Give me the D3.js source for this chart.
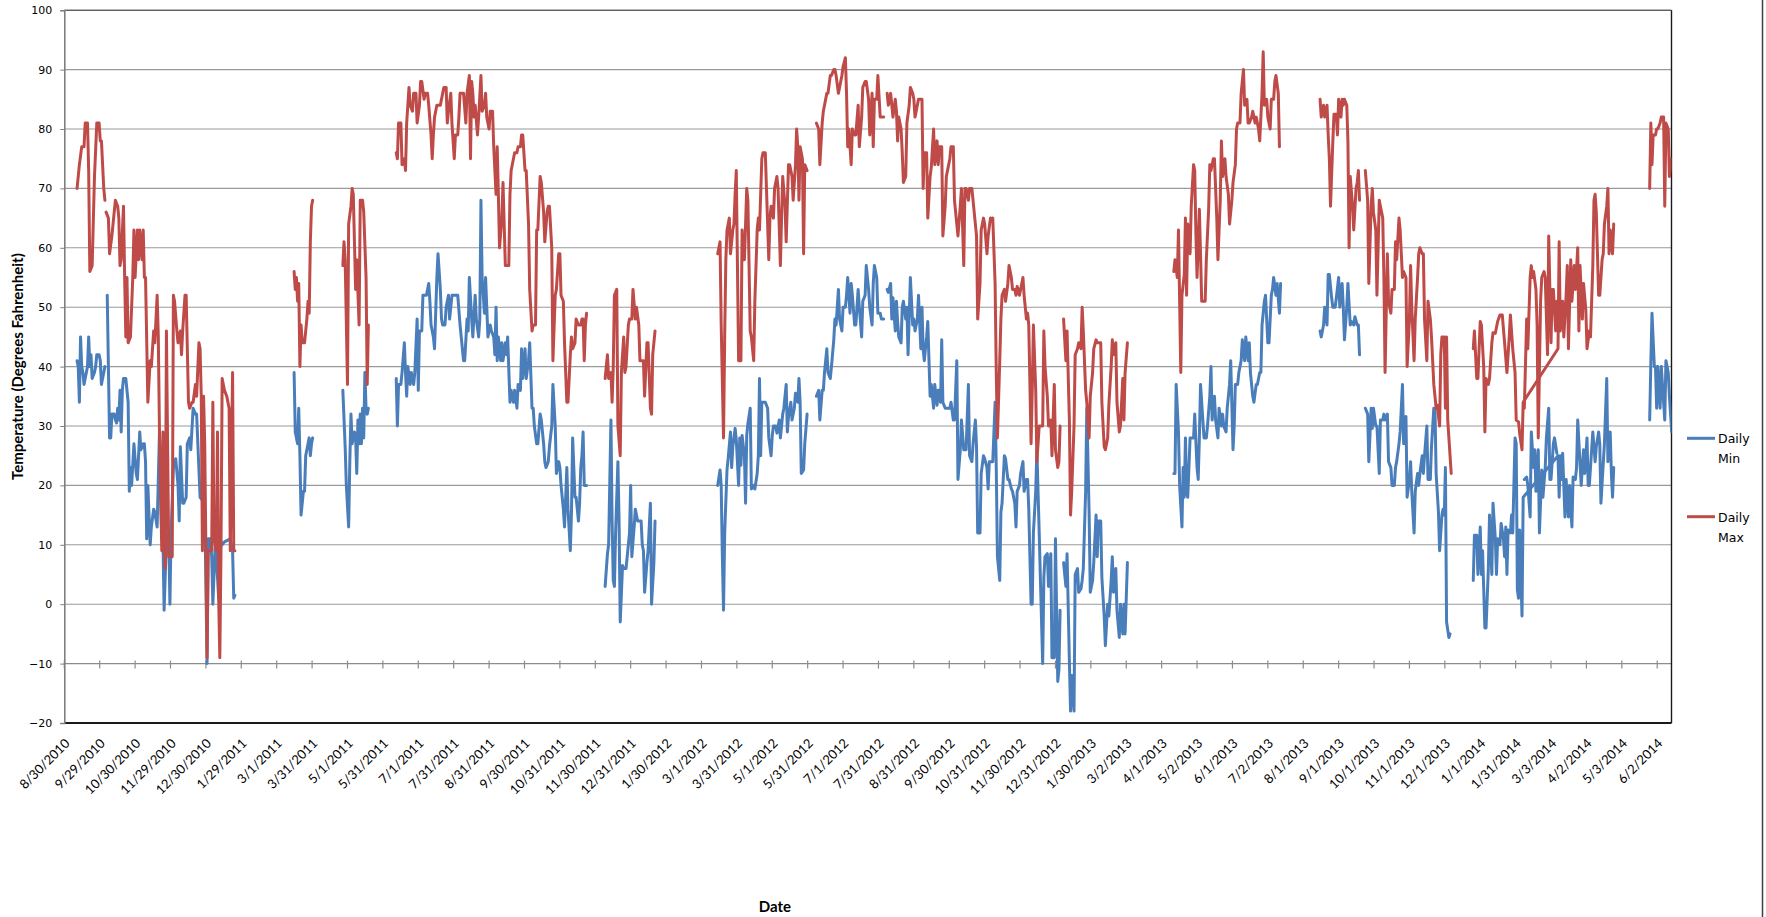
<!DOCTYPE html>
<html><head><meta charset="utf-8">
<script src="https://cdn.jsdelivr.net/npm/d3@7"></script>
<style>
html,body{margin:0;padding:0;background:#fff;}
svg{display:block;}
</style></head><body>
<svg id="chart" width="1766" height="917"></svg>
<script>
// ---------- data (day offsets from startDate, degrees F) ----------
const startDate = "8/30/2010";
const xMaxDay = 1384.8;
const tickStepDays = 30.5;
const tickLabels = ["8/30/2010","9/29/2010","10/30/2010","11/29/2010","12/30/2010","1/29/2011","3/1/2011","3/31/2011","5/1/2011","5/31/2011","7/1/2011","7/31/2011","8/31/2011","9/30/2011","10/31/2011","11/30/2011","12/31/2011","1/30/2012","3/1/2012","3/31/2012","5/1/2012","5/31/2012","7/1/2012","7/31/2012","8/31/2012","9/30/2012","10/31/2012","11/30/2012","12/31/2012","1/30/2013","3/2/2013","4/1/2013","5/2/2013","6/1/2013","7/2/2013","8/1/2013","9/1/2013","10/1/2013","11/1/2013","12/1/2013","1/1/2014","1/31/2014","3/3/2014","4/2/2014","5/3/2014","6/2/2014"];
const yTicks = [-20,-10,0,10,20,30,40,50,60,70,80,90,100];
const seriesNames = ["Daily Min","Daily Max"];
const yTitle = "Temperature (Degrees Fahrenheit)";
const xTitle = "Date";

const minSegments = [
[[11,41],[12,40],[13,34],[14,45],[15,40],[16,39],[17,37],[18,38],[20,40],[21,45],[22,40],[23,42],[24,38],[26,39],[27,40],[28,42],[30,42],[31,41],[32,37],[34,39],[35,40]],
[[37,52],[39,28],[40,28],[41,32],[43,32],[44,31],[45,30.5],[46,33],[47,31],[48,36],[49,29],[50,36],[51,38],[53,38],[55,34],[56,19],[57,23],[58,20],[60,27],[62,22],[63,21],[65,29],[66,26],[68,27],[69,27],[70,24],[71,11],[72,20],[74,10],[75,13],[77,16],[78,15.5],[80,13],[82,29],[84,11],[85,11],[86,-1],[88,11],[90,12],[91,0],[92,12],[94,23],[96,24.5],[98,20],[99,14],[100,26.5],[102,17],[103,17],[105,18],[106,27],[108,28],[109,26],[111,33],[113,32],[114,32],[117,18],[121,17],[123,-10],[124,11],[126,11],[127,8],[128,0],[130,10],[131,8],[133,1],[134,11],[136,10],[138,10.5],[143,11],[145,9],[146,1],[147,1.5]],
[[198,39],[199,29],[201,27],[202,33],[203,25],[204,15],[206,19],[207,19],[208,25],[209,26],[211,28],[212,25],[213,27],[214,28]],
[[240,36],[242,26.5],[243,20],[245,13],[246,24],[247,32],[248,27],[250,29],[251,28],[252,22],[253,31],[254,27],[255,32],[256,27],[257,33],[258,28],[259,39],[260,33],[261,32],[262,33]],
[[286,38],[287,30],[288,37],[290,37],[291,39],[293,44],[294,39],[295,35],[296,40],[298,37],[299,39],[301,37],[302,39],[304,48],[305,36],[306,46],[308,46],[309,52],[311,52],[312,52],[314,54],[315,51],[316,47],[318,45],[319,43],[321,55],[322,59],[324,53],[325,48],[326,47],[328,47],[329,50],[331,52],[332,48],[334,52],[335,52],[337,52],[338,52],[339,52],[341,47],[342,45],[344,41],[345,41],[347,48],[348,46],[349,55],[351,48],[352,45],[354,52],[355,48],[357,45],[358,48],[359,68],[360,55],[362,49],[363,55],[364,50],[365,45],[367,47],[368,46],[370,45],[371,42],[372,50],[373,41],[374,45],[375,43],[376,41],[377,44],[378,41],[380,44],[381,42],[382,45],[384,34],[385,36],[387,34],[388,36],[390,33],[391,37],[393,36],[394,43],[395,38],[397,43],[398,38],[400,41],[401,44],[403,33],[404,33],[405,30],[407,27],[408,27],[410,32],[411,31],[413,27],[414,24],[415,23],[417,24],[418,26.5],[420,30],[421,37],[423,30],[424,22],[426,24],[427,23],[428,20],[430,16],[431,13],[433,23],[434,16],[436,9],[437,15.5],[438,28],[440,18],[441,18],[443,14],[444,17],[445,23],[446,25],[447,29],[448,20],[450,20]],
[[466,3],[468,8.5],[469,10],[471,31],[472,14],[473,4],[474,3],[475,12],[477,24],[478,14],[479,-3],[481,6.5],[482,6],[484,6],[485,8],[487,12],[488,20],[489,8],[491,13],[492,16],[494,14],[495,14],[497,14],[498,10],[499,9],[500,2],[502,7],[503,9],[505,17],[506,0],[508,7],[509,14]],
[[563,20],[565,22.6],[566,20],[567,8],[568,-1],[569,12],[571,22.6],[572,24.5],[574,29],[575,23],[576,26.5],[578,29.6],[579,27.7],[581,20],[582,28],[583,23.4],[584,28.4],[586,25],[587,17],[588,28.4],[589,30.4],[591,33],[592,19.4],[594,20],[595,19.4],[597,22],[598,25],[599,38],[600,25],[601,34],[603,34],[604,34],[606,33],[607,28],[609,25],[610,28.4],[611,30],[613,30],[614,28.8],[616,31],[617,28],[619,32],[620,33],[622,37],[623,29],[624,31.6],[626,34],[627,31],[629,33],[630,35.5],[632,34],[633,38],[634,34],[635,22],[637,22.6],[638,27],[640,32]],
[[648,35],[650,36],[651,31],[653,36],[654,36],[655,39],[657,43],[658,39],[660,38],[661,40],[663,44.5],[664,48],[665,47],[667,53],[668,48],[670,46],[671,50],[673,50],[674,52],[675,55],[677,49],[678,54],[679,52],[681,47],[682,47],[684,53],[685,50],[687,45],[688,51],[690,52],[691,57],[693,53],[694,50],[696,47],[697,54],[698,57],[700,55],[701,49],[703,49],[704,48],[706,48]],
[[709,53],[710,52.5],[712,54],[713,48],[714,51.6],[716,46],[717,51],[718,47.6],[719,45],[721,44],[722,50],[723,51],[725,48],[726,50],[727,42],[729,55],[731,47],[732,48],[733,46],[735,48],[736,52],[738,43],[739,50],[740,43],[741,41],[743,45],[744,47.6],[746,35],[747,37],[749,33],[750,37],[752,33.5],[753,36],[755,34],[756,44.5],[757,34],[759,33],[760,33],[762,33],[763,33],[764,34],[766,31],[767,31],[769,41],[770,21],[772,26],[773,31],[775,26],[776,26],[777,26],[779,37],[780,25],[782,24],[783,27],[785,31],[786,26.5],[787,12],[789,12],[790,22],[792,25],[793,24.5],[795,23],[796,19.4],[797,24],[799,24],[800,24],[802,34],[803,23],[804,8],[806,4],[807,15.5],[808,17],[810,25],[811,24.5],[813,21],[814,21],[816,19.4],[817,19],[819,17],[820,13],[821,19],[823,20],[824,22],[826,24],[827,19],[829,21],[830,21],[831,16],[833,0],[834,0],[835,12],[837,19],[838,26],[840,12],[841,4.5],[843,-10],[844,4.5],[845,8],[847,8.5],[848,3],[850,8.5],[851,-9],[853,-9],[854,11],[856,-13],[857,-11],[858,-1]],
[[861,7],[863,3],[864,8.5],[866,-9.6],[867,-18],[868,-12],[870,-18],[871,5],[873,6],[874,2],[876,2.6],[877,4],[878,6],[880,19],[881,33],[883,15.5],[884,2],[886,4],[887,7],[889,15],[890,8],[891,14],[893,14],[894,4.5],[896,-2],[897,-7],[899,0],[900,-2],[902,4],[903,8],[904,2],[906,6],[907,-1],[909,-5.6],[910,0],[912,-5],[913,0],[914,-5],[916,7]],
[[956,22],[957,22],[958,37],[960,29],[961,20],[963,13],[964,23],[965,18],[966,28],[967,19],[968,18],[970,28],[971,28],[973,28],[974,32],[976,23],[977,21],[978,28],[979,37],[981,31],[982,28],[984,28],[985,30],[987,35],[988,40],[989,31],[991,35],[992,31],[994,28],[995,33],[997,30],[998,32],[999,30],[1001,29],[1002,33],[1004,37],[1005,41],[1007,26],[1008,30],[1009,37],[1011,37],[1012,39],[1014,41],[1015,44.5],[1017,41],[1018,45],[1020,41],[1021,44],[1022,39],[1024,35],[1025,34],[1027,37],[1028,37],[1030,39],[1031,39],[1032,47],[1034,51],[1035,52],[1037,44],[1038,44],[1040,52],[1041,53],[1042,55],[1044,52],[1045,54],[1047,49],[1048,54]],
[[1082,46],[1083,45],[1085,47],[1086,50],[1088,47],[1089,55.5],[1090,55.5],[1092,51.5],[1093,50],[1095,50],[1096,51.5],[1098,55],[1099,50],[1101,54],[1102,50],[1103,44.5],[1105,50],[1106,54],[1108,47],[1109,47.6],[1111,47],[1112,48.4],[1114,47],[1115,47],[1116,42]],
[[1121,33],[1123,32],[1124,24],[1126,33],[1127,29.6],[1128,33],[1130,30],[1131,30],[1133,22],[1134,31],[1136,31],[1137,32],[1138,31],[1140,32],[1141,24],[1143,23],[1144,20],[1146,20],[1147,23],[1148,24],[1150,27],[1151,29],[1153,37],[1154,27],[1156,31.6],[1157,18],[1159,21],[1160,24],[1161,19],[1163,12],[1164,19],[1166,22],[1167,20],[1168,22],[1170,25],[1171,22],[1172,25],[1174,30],[1175,21],[1177,21],[1178,26.5],[1180,33],[1181,33],[1182,22],[1184,15.5],[1185,9],[1187,15],[1188,16],[1189,15],[1190,23],[1191,-3],[1193,-5.6],[1194,-5]],
[[1214,4],[1215,11.6],[1217,11.6],[1218,5],[1220,13],[1221,5],[1222,9],[1224,-4],[1225,-4],[1227,6],[1228,15],[1230,5],[1231,17],[1233,11],[1234,5],[1235,11],[1237,10],[1238,13.6],[1240,11],[1241,8],[1242,13],[1243,5],[1244,12.5],[1246,12],[1247,15],[1248,12],[1250,28],[1251,27],[1252,2.4],[1253,1],[1254,12.5],[1256,-2],[1257,18],[1287,25],[1288,18],[1289,25],[1290,21],[1291,25.4],[1293,14.7],[1294,21],[1296,14.7],[1297,20],[1299,13],[1300,21.4],[1302,21],[1303,23],[1304,31],[1306,23.7],[1307,20],[1309,26],[1310,22],[1312,28],[1313,20],[1314,20],[1316,26],[1317,29],[1319,24],[1320,26.5],[1322,29],[1323,27],[1324,17],[1326,23.7],[1327,27],[1329,38],[1330,24],[1332,29],[1333,22],[1334,18],[1335,23]],
[[1258,21],[1260,21.4],[1261,20],[1263,14.7],[1264,29],[1266,23],[1267,26],[1268,19],[1270,26],[1271,12],[1273,22.6],[1274,18],[1276,23],[1277,28],[1279,33],[1280,21],[1281,21],[1283,27],[1284,28],[1286,25.4]],
[[1366,31],[1367,40.6],[1368,49],[1370,40],[1371,40],[1372,33],[1373,40],[1375,33],[1376,40],[1378,34],[1379,31],[1380,41],[1382,39],[1383,35],[1385,29]]
];

const maxSegments = [
[[11,70],[13,74],[15,77],[17,77],[18,81],[20,81],[21,73],[22,56],[24,57],[26,72],[28,81],[30,81],[31,78],[32,78],[34,70],[35,68]],
[[36,66],[38,65],[39,59],[41,62],[42,64],[44,68],[46,67],[47,65],[48,57],[49,58],[51,67],[52,55],[53,45],[54,55],[55,44],[57,45],[59,55],[60,63],[61,55],[63,63],[64,58],[65,63],[67,58],[68,63],[69,55],[70,55],[72,34],[74,41],[75,40],[77,46],[78,44],[80,52],[81,45],[82,29],[84,9],[85,29],[86,10],[87,6],[88,46],[90,8],[92,8],[93,8],[94,52],[95,51],[97,46],[98,44],[100,46],[101,42],[102,46],[104,52],[105,52],[107,34],[108,33],[110,34],[111,34],[113,37],[114,35],[116,44],[117,43],[118,35],[119,9],[120,35],[121,27],[123,-9],[124,9],[126,9],[127,9],[128,34],[129,11],[131,9],[132,29],[133,1],[134,-9],[135,9],[136,38],[138,36],[140,35],[142,33],[143,9],[145,39],[146,9],[147,9]],
[[198,56],[199,53],[200,55],[201,51],[202,54],[203,40],[204,47],[205,44],[207,44],[209,48],[210,51],[211,49],[212,61],[213,67],[214,68]],
[[240,57],[241,61],[242,58],[244,37],[245,64],[247,67],[248,70],[249,69],[251,53],[252,58],[254,47],[255,68],[257,68],[258,66],[260,55],[261,37],[262,47]],
[[286,76],[287,75],[288,81],[290,81],[291,74],[293,75],[294,73],[295,81],[297,87],[298,84],[300,83],[301,86],[303,86],[304,81],[306,84],[307,88],[308,88],[310,85],[311,86],[313,86],[314,84],[316,79],[317,75],[318,79],[319,82],[321,84],[322,84],[324,84],[326,86],[327,87],[329,87],[330,81],[331,83],[333,86],[334,81],[336,75],[337,79],[339,79],[340,82],[341,86],[343,86],[344,86],[346,81],[347,86],[349,89],[350,75],[351,88],[352,86],[353,82],[354,84],[356,79],[357,82],[359,89],[360,83],[362,84],[363,86],[364,82],[366,80],[367,83],[369,83],[370,77],[372,69],[373,77],[374,69],[375,60],[377,65],[378,71],[380,57],[381,57],[383,57],[384,69],[385,73],[387,75],[388,76],[390,76],[391,77],[393,77],[394,79],[395,79],[397,73],[398,73],[400,64],[401,53],[403,46],[404,47],[406,47],[407,63],[408,63],[410,72],[411,71],[413,66],[414,61],[416,66],[417,67],[418,67],[420,60],[421,41],[423,52],[424,53],[426,59],[427,59],[428,52],[430,51],[431,44],[433,34],[434,34],[436,42],[437,45],[438,43],[440,44],[441,48],[443,47],[444,47],[445,47],[446,48],[447,48],[448,41],[449,47],[450,49]],
[[466,38],[468,42],[469,38],[471,39],[472,34],[473,40],[474,52],[476,53],[477,30],[479,25],[480,39],[482,45],[483,39],[484,40],[486,47],[487,48],[489,48],[490,53],[492,48],[493,50],[495,47],[496,41],[497,41],[499,41],[500,35],[502,44],[503,44],[505,33],[506,32],[507,42],[509,46]],
[[563,59],[565,61],[566,47],[568,28],[569,45],[570,58],[571,63],[573,65],[574,59],[576,63],[577,64],[578,69],[579,73],[581,41],[582,41],[583,41],[584,63],[585,58],[586,58],[588,70],[589,68],[591,46],[592,45],[594,41],[595,51],[597,63],[598,65],[599,63],[601,75],[602,76],[604,76],[605,70],[607,58],[608,65],[609,67],[611,65],[612,70],[614,72],[615,70],[617,57],[618,65],[619,72],[621,67],[622,61],[624,74],[625,74],[627,72],[628,68],[630,74],[631,80],[632,77],[633,68],[634,77],[636,75],[637,59],[638,74],[640,73]],
[[648,81],[650,80],[651,74],[653,81],[654,83],[655,84],[657,86],[658,86],[660,89],[661,89],[663,90],[664,90],[665,89],[667,86],[668,87],[670,89],[671,90.5],[673,92],[674,86],[675,77],[676,80],[678,74],[679,80],[681,79],[682,79],[684,84],[685,77],[687,82],[688,87],[690,88],[691,88],[693,85],[694,79],[696,86],[697,77],[698,85],[700,85],[701,89],[703,82],[704,82],[706,82]],
[[709,86],[710,84],[712,86],[713,84],[714,82],[716,85],[717,83],[718,78],[719,82],[721,80],[722,76],[723,71],[725,72],[726,81],[728,84],[729,87],[731,86],[732,85],[733,82],[735,84],[736,85],[738,85],[739,85],[740,70],[741,76],[743,76],[744,65],[746,72],[747,73.5],[749,80],[750,74],[752,78],[753,74],[754,77],[756,77],[757,62],[759,67],[760,72],[762,74],[763,75],[764,77],[766,77],[767,68],[769,64],[770,62],[772,67],[773,70],[775,57],[776,70],[777,70],[779,68],[780,70],[782,70],[783,68],[785,64],[786,62],[787,48],[789,54],[790,63],[792,65],[793,64],[795,59],[796,62],[798,65],[799,64.5],[800,65],[802,54],[803,39],[804,28],[806,41],[807,48],[808,52],[810,53],[811,51],[813,54],[814,57],[816,55],[817,53],[819,53],[820,52],[821,53.5],[823,52],[824,53],[826,55],[827,52],[829,48],[830,49],[831,47],[833,27],[834,36],[835,47],[837,36],[838,24],[840,30],[841,30],[843,30],[844,46],[845,40],[847,35],[848,30],[850,31],[851,25],[853,37],[854,26],[856,23],[857,24],[858,30]],
[[861,48],[863,41],[864,46],[866,31],[867,15],[868,19],[870,30],[871,42],[873,43],[874,44],[876,43],[877,50],[878,46],[880,36],[881,34],[883,28],[884,35],[886,39],[887,43],[889,44.5],[890,44],[891,44],[893,44],[894,34],[896,26.5],[897,26],[899,28],[900,33.5],[902,40],[903,44.5],[904,42],[906,44],[907,34],[909,29],[910,30],[912,38],[913,31],[914,39],[916,44]],
[[956,56],[957,58],[959,55],[960,63],[962,39],[963,52],[965,55.5],[966,65],[967,52],[968,64],[970,59],[971,67],[973,74],[974,73],[975,62.5],[976,55],[978,66.5],[979,59],[980,51],[981,51],[983,51],[984,58],[986,66.5],[987,74],[988,73],[990,75],[991,75],[993,65],[994,58],[996,68],[997,78],[998,72],[1000,75],[1001,72],[1003,69],[1004,64],[1006,68],[1007,71],[1009,74],[1010,80],[1011,81],[1013,81],[1014,86],[1016,90],[1017,84],[1019,85],[1020,81],[1021,81],[1023,82],[1024,83],[1026,81],[1027,82],[1029,80],[1030,78],[1032,86],[1033,93],[1034,84],[1036,85],[1037,82],[1039,80],[1040,85],[1042,85],[1043,88],[1044,89],[1046,86],[1047,77]],
[[1082,85],[1083,82],[1085,84],[1086,82],[1088,84],[1089,79],[1090,75],[1091,67],[1093,78],[1094,82.5],[1096,82.5],[1097,79],[1098,85],[1100,82],[1101,85],[1102,84],[1103,85],[1105,84],[1106,78],[1107,60],[1108,72],[1110,67],[1111,63],[1113,70],[1114,71],[1115,73],[1116,68]],
[[1121,73],[1123,68],[1124,54],[1126,67],[1127,70],[1128,66],[1130,63],[1131,52],[1133,68],[1134,67],[1136,65],[1137,55],[1138,39],[1140,59],[1141,51],[1143,49],[1144,53],[1146,53],[1147,61],[1148,58],[1150,65],[1151,63],[1153,55],[1154,56],[1156,55],[1157,40],[1159,48],[1160,57],[1161,50],[1163,41],[1164,48],[1166,55],[1167,59],[1168,60],[1170,59],[1171,59],[1172,48],[1174,41],[1175,51],[1177,48],[1178,45],[1180,37],[1182,33],[1183,33.5],[1185,30],[1186,42],[1187,45],[1189,45],[1190,33],[1191,45],[1192,31],[1193,28],[1195,22]],
[[1214,43],[1215,46],[1217,38],[1218,38],[1220,47.6],[1221,47],[1223,40],[1224,29],[1225,38],[1227,37],[1228,38],[1230,44],[1231,45.7],[1233,45.6],[1235,47.6],[1237,48.7],[1239,48.7],[1241,44],[1243,39],[1245,45],[1246,48.7],[1248,43],[1250,39],[1251,31],[1253,30.7],[1254,28.7],[1256,26],[1257,34],[1287,43],[1288,61],[1289,46],[1291,51],[1292,45],[1294,52],[1295,57],[1296,43],[1298,58],[1299,51],[1301,57],[1302,53],[1304,60],[1305,46],[1306,57],[1308,48],[1309,54],[1311,49.5],[1312,43],[1314,46],[1315,45],[1317,57],[1318,68],[1319,69],[1320,66],[1322,52],[1323,52],[1325,58],[1326,59],[1327,64],[1329,67],[1330,70],[1331,59],[1332,63],[1334,59],[1335,64]],
[[1258,33],[1260,48],[1261,43],[1263,55],[1264,57],[1265,55],[1266,56],[1268,53],[1269,47],[1270,28],[1272,51],[1273,55],[1275,56],[1276,55],[1278,42],[1279,62],[1281,44],[1282,53],[1283,53],[1285,46],[1286,51]],
[[1366,70],[1367,81],[1368,74],[1369,79],[1371,79],[1372,80],[1373,80],[1375,81],[1376,82],[1378,82],[1379,67],[1380,81],[1382,80],[1383,72],[1385,75]]
];

const seriesColors = ["#4a7ebb", "#be4b48"];

// ---------- layout ----------
const L = 64.3, R = 1671.5, T = 10.2, B = 723;
const svg = d3.select("#chart");
const x = d3.scaleLinear().domain([0, xMaxDay]).range([L, R]);
const y = d3.scaleLinear().domain([yTicks[0], yTicks[yTicks.length-1]]).range([B, T]);

svg.append("defs").append("clipPath").attr("id","plotclip")
  .append("rect").attr("x",L).attr("y",T).attr("width",R-L).attr("height",B-T);

// gridlines
svg.append("g").selectAll("line").data(yTicks.filter(v => v > -10 && v < 100)).join("line")
  .attr("x1", L).attr("x2", R).attr("y1", d => y(d)).attr("y2", d => y(d))
  .attr("stroke", "#9a9a9a").attr("stroke-width", 1.1);

// horizontal category axis crossing at -10
const xAxisY = y(-10);
svg.append("line").attr("x1", L).attr("x2", R).attr("y1", xAxisY).attr("y2", xAxisY)
  .attr("stroke", "#8c8c8c").attr("stroke-width", 1.4);
const tickDays = tickLabels.map((t, i) => i * tickStepDays);
svg.append("g").selectAll("line").data(tickDays).join("line")
  .attr("x1", d => x(d)).attr("x2", d => x(d)).attr("y1", xAxisY - 3).attr("y2", xAxisY + 5)
  .attr("stroke", "#8c8c8c").attr("stroke-width", 1.2);

// plot frame
svg.append("line").attr("x1", L).attr("x2", R).attr("y1", T).attr("y2", T).attr("stroke", "#1a1a1a").attr("stroke-width", 1);
svg.append("line").attr("x1", R).attr("x2", R).attr("y1", T).attr("y2", B).attr("stroke", "#1a1a1a").attr("stroke-width", 1.4);
svg.append("line").attr("x1", L).attr("x2", R).attr("y1", B).attr("y2", B).attr("stroke", "#1a1a1a").attr("stroke-width", 2);

// y axis
const yAxis = d3.axisLeft(y).tickValues(yTicks).tickSize(4).tickPadding(8).tickFormat(d3.format("d"));
const yg = svg.append("g").attr("transform", `translate(${L},0)`).call(yAxis);
yg.select(".domain").attr("stroke", "#7f7f7f").attr("stroke-width", 1.6);
yg.selectAll(".tick line").attr("stroke", "#7f7f7f");
yg.selectAll(".tick text").attr("font-family", "'DejaVu Sans', Verdana, sans-serif").attr("font-size", 11).attr("fill", "#000");

// x tick labels (rotated)
svg.append("g").selectAll("text").data(tickLabels).join("text")
  .attr("transform", (d, i) => `translate(${x(tickDays[i]) + 3},${741}) rotate(-45)`)
  .attr("text-anchor", "end").attr("dy", "0.35em")
  .attr("font-family", "Lato, 'Open Sans', sans-serif").attr("font-size", 13).attr("fill", "#000")
  .text(d => d);

// series
const line = d3.line().x(d => x(d[0])).y(d => y(d[1]));
const plot = svg.append("g").attr("clip-path", "url(#plotclip)");
[minSegments, maxSegments].forEach((segs, si) => {
  plot.append("g").selectAll("path").data(segs).join("path")
    .attr("d", line).attr("fill", "none").attr("stroke", seriesColors[si])
    .attr("stroke-width", 3).attr("stroke-linejoin", "round").attr("stroke-linecap", "round");
});

// axis titles
svg.append("text").attr("transform", `translate(18,${(T + B) / 2}) rotate(-90)`)
  .attr("text-anchor", "middle").attr("dy", "0.35em")
  .attr("font-family", "Lato, sans-serif").attr("font-weight", "bold").attr("font-size", 15).attr("fill", "#000")
  .text(yTitle);
svg.append("text").attr("x", 775).attr("y", 912).attr("text-anchor", "middle")
  .attr("font-family", "Lato, sans-serif").attr("font-weight", "bold").attr("font-size", 15).attr("fill", "#000")
  .text(xTitle);

// legend
const legendY = [438.3, 516.7];
const lg = svg.append("g");
seriesNames.forEach((name, i) => {
  lg.append("line").attr("x1", 1687).attr("x2", 1715).attr("y1", legendY[i]).attr("y2", legendY[i])
    .attr("stroke", seriesColors[i]).attr("stroke-width", 3);
  const words = name.split(" ");
  lg.append("text").attr("x", 1718).attr("y", legendY[i] + 5)
    .attr("font-family", "'DejaVu Sans', Verdana, sans-serif").attr("font-size", 12.5).attr("fill", "#000")
    .selectAll("tspan").data(words).join("tspan")
    .attr("x", 1718).attr("dy", (d, j) => j === 0 ? 0 : 20).text(d => d);
});

// chart area border (right edge)
svg.append("line").attr("x1", 1762.5).attr("x2", 1762.5).attr("y1", 0).attr("y2", 917)
  .attr("stroke", "#404040").attr("stroke-width", 1.5);
</script>
</body></html>
